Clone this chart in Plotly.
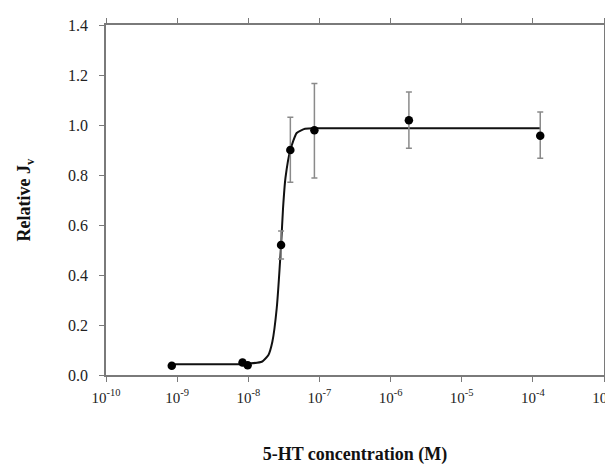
import plotly.graph_objects as go

# Measured data points (5-HT concentration in M, relative Jv)
conc = [8.4e-10, 8.3e-9, 9.8e-9, 2.89e-8, 3.9e-8, 8.5e-8, 1.81e-6, 1.27e-4]
rel_jv = [0.037, 0.050, 0.039, 0.520, 0.900, 0.979, 1.019, 0.957]
err_plus = [0, 0, 0, 0.056, 0.131, 0.187, 0.113, 0.095]
err_minus = [0, 0, 0, 0.056, 0.129, 0.191, 0.112, 0.090]

# Fitted curve
curve_x = [8.4e-10, 8.3e-9, 1.0e-8, 1.55e-8, 1.91e-8, 2.18e-8, 2.51e-8,
           2.89e-8, 3.08e-8, 3.33e-8, 3.9e-8, 4.79e-8, 6.28e-8, 1.0e-7, 1.27e-4]
curve_y = [0.043, 0.043, 0.045, 0.053, 0.079, 0.133, 0.267,
           0.520, 0.667, 0.788, 0.900, 0.968, 0.985, 0.987, 0.987]

tick_vals = [1e-10, 1e-9, 1e-8, 1e-7, 1e-6, 1e-5, 1e-4, 1e-3]
tick_text = ["10<sup>-10</sup>", "10<sup>-9</sup>", "10<sup>-8</sup>", "10<sup>-7</sup>",
             "10<sup>-6</sup>", "10<sup>-5</sup>", "10<sup>-4</sup>", "10<sup>-3</sup>"]
y_ticks = [0.0, 0.2, 0.4, 0.6, 0.8, 1.0, 1.2, 1.4]

fig = go.Figure()
fig.add_trace(go.Scatter(
    x=curve_x, y=curve_y, mode="lines",
    line=dict(color="#111111", width=2, shape="spline", smoothing=0.5),
    hoverinfo="skip", showlegend=False))
fig.add_trace(go.Scatter(
    x=conc, y=rel_jv, mode="markers",
    marker=dict(color="#000000", size=8.5),
    error_y=dict(type="data", symmetric=False, array=err_plus, arrayminus=err_minus,
                 color="#8a8a8a", thickness=1.5, width=3),
    showlegend=False))

font_family = "Liberation Serif, Times New Roman, serif"
axis_common = dict(showline=True, linecolor="#7a7a7a", linewidth=1.5,
                   mirror="ticks", ticks="outside", ticklen=5, tickwidth=1.2,
                   tickcolor="#7a7a7a", showgrid=False, zeroline=False,
                   automargin=False)

fig.update_xaxes(type="log", range=[-10, -3], tickvals=tick_vals, ticktext=tick_text,
                 ticklabelstandoff=3,
                 tickfont=dict(family=font_family, size=15, color="#222222"),
                 title=dict(text="5-HT concentration (M)", standoff=43,
                            font=dict(family=font_family, size=18, color="#111111", weight="bold")),
                 **axis_common)
fig.update_yaxes(range=[0, 1.4], tickvals=y_ticks, tickformat=".1f",
                 ticklabelstandoff=8,
                 tickfont=dict(family=font_family, size=16, color="#222222"),
                 title=dict(text="Relative J<sub>v</sub>", standoff=33,
                            font=dict(family=font_family, size=18, color="#111111", weight="bold")),
                 **axis_common)

fig.update_layout(width=613, height=467, margin=dict(l=98, r=17, t=17, b=100),
                  plot_bgcolor="white", paper_bgcolor="white")
fig.write_html("out.html")
